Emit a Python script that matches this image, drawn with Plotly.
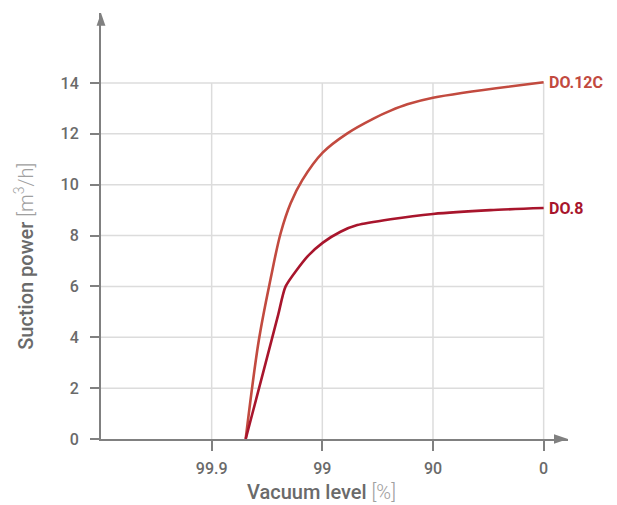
import math
import plotly.graph_objects as go

# ---- data ----
vacuum_do12c = [99.797, 99.733, 99.659, 99.58, 99.483, 99.341, 98.988, 98.317,
                97.07, 95.86, 94.14, 90.0, 0.0]
power_do12c = [0.0, 3.89, 6.3, 8.09, 9.27, 10.18, 11.27, 12.02,
               12.61, 12.91, 13.16, 13.42, 14.03]

vacuum_do8 = [99.797, 99.692, 99.60, 99.534, 99.268, 98.988, 98.54, 97.93, 95.86, 90.0, 67.0, 0.0]
power_do8 = [0.0, 3.0, 4.9, 6.0, 7.17, 7.72, 8.15, 8.41, 8.64, 8.85, 9.0, 9.08]

x_tick_labels = ["99.9", "99", "90", "0"]
x_tick_vacuum = [99.9, 99.0, 90.0, 0.0]
y_ticks = [0, 2, 4, 6, 8, 10, 12, 14]

series_names = ["DO.12C", "DO.8"]
series_colors = ["#c24a3f", "#a8152c"]
series_smoothing = [1.0, 0.6]


# residual pressure (100 - vacuum) drives a log axis
def residual(v):
    return [round(100.0 - a, 6) for a in v]


AXIS = "#808080"
GRID = "#dcdcdc"
TXT = "#6a6a6a"
FONT = "Roboto"

fig = go.Figure()

# grid (bounded to the tick area)
gx, gy = [], []
for xv in residual(x_tick_vacuum):
    gx += [xv, xv, None]
    gy += [0, max(y_ticks), None]
for yv in y_ticks[1:]:
    gx += [0.01, 100.0, None]
    gy += [yv, yv, None]
fig.add_trace(go.Scatter(x=gx, y=gy, mode="lines",
                         line=dict(color=GRID, width=1.5),
                         hoverinfo="skip", showlegend=False))

annots = []
for name, vac, pw, col, sm in [
        (series_names[0], vacuum_do12c, power_do12c, series_colors[0], series_smoothing[0]),
        (series_names[1], vacuum_do8, power_do8, series_colors[1], series_smoothing[1])]:
    xs = residual(vac)
    fig.add_trace(go.Scatter(
        x=xs, y=pw, mode="lines", name=name,
        line=dict(color=col, width=2.6, shape="spline", smoothing=sm),
        showlegend=False))
    annots.append(dict(x=math.log10(xs[-1]), y=pw[-1], xref="x", yref="y",
                       text="<b>%s</b>" % name, showarrow=False,
                       xanchor="left", yanchor="middle", xshift=3,
                       font=dict(family=FONT, size=16, color=col)))

fig.update_layout(
    width=609, height=497,
    margin=dict(l=93, r=49, t=5, b=66),
    plot_bgcolor="white", paper_bgcolor="white",
    font=dict(family=FONT, color=TXT),
    xaxis=dict(type="log", range=[-2, 2.22], showgrid=False, zeroline=False,
               showline=True, linecolor=AXIS, linewidth=2,
               tickvals=residual(x_tick_vacuum), ticktext=x_tick_labels,
               ticks="outside", ticklen=10, tickwidth=1.5, tickcolor=AXIS,
               tickfont=dict(size=16, color=TXT, weight=500), ticklabelstandoff=4),
    yaxis=dict(range=[0, 16.75], showgrid=False, zeroline=False,
               showline=True, linecolor=AXIS, linewidth=2,
               tickvals=y_ticks, ticks="outside", ticklen=9, tickwidth=1.5,
               tickcolor=AXIS, tickfont=dict(size=16, color=TXT, weight=500),
               ticklabelstandoff=8),
    shapes=[
        dict(type="path", xref="paper", yref="paper", line=dict(width=0),
             fillcolor=AXIS, path="M 0.97,-0.011 L 1,0 L 0.97,0.011 Z"),
        dict(type="path", xref="paper", yref="paper", line=dict(width=0),
             fillcolor=AXIS, path="M -0.0095,0.97 L 0,1 L 0.0095,0.97 Z"),
    ],
    annotations=annots + [
        dict(xref="paper", yref="paper", x=0.473, y=-0.124, showarrow=False,
             text="<span style='font-weight:500'>Vacuum level</span> <span style='font-weight:300;color:#a0a0a0'>[%]</span>",
             font=dict(size=20, color=TXT), xanchor="center", yanchor="middle"),
        dict(xref="paper", yref="paper", x=-0.165, y=0.43, showarrow=False,
             textangle=-90,
             text="<span style='font-weight:500'>Suction power</span> <span style='font-weight:300;color:#a0a0a0'>[m<sup>3</sup>/h]</span>",
             font=dict(size=20, color=TXT), xanchor="center", yanchor="middle"),
    ],
)

fig.write_html("out.html")
